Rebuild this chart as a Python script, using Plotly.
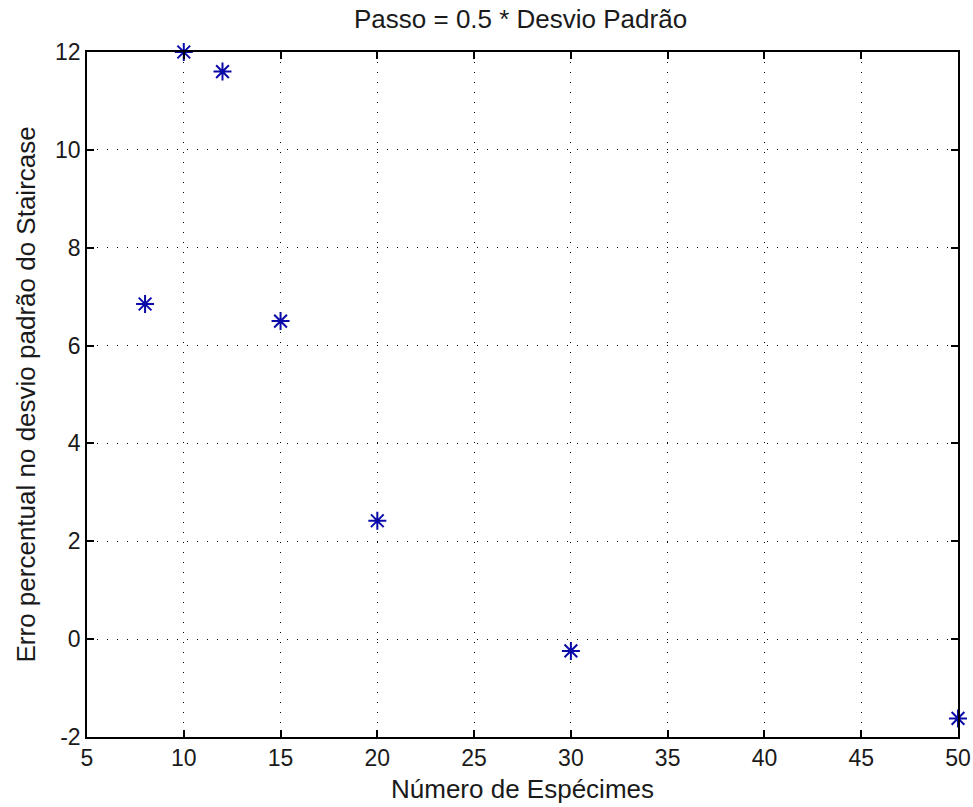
import plotly.graph_objects as go

# Data
especimes = [8, 10, 12, 15, 20, 30, 50]
erro = [6.85, 12.0, 11.6, 6.5, 2.42, -0.24, -1.62]

x_ticks = [5, 10, 15, 20, 25, 30, 35, 40, 45, 50]
y_ticks = [-2, 0, 2, 4, 6, 8, 10, 12]
y_tick_text = ["-2", "0", "2", "4", "6", "8", "10", "12"]

title_text = "Passo = 0.5 * Desvio Padrão"
x_label = "Número de Espécimes"
y_label = "Erro percentual no desvio padrão do Staircase"

fig = go.Figure()
fig.add_trace(go.Scatter(
    x=especimes, y=erro, mode="markers",
    marker=dict(symbol="asterisk-open", size=15, color="#0a0aa8",
                line=dict(color="#0a0aa8", width=2)),
    cliponaxis=False, showlegend=False,
))

font_family = "Liberation Sans, Arial, sans-serif"
axis_common = dict(
    showline=True, linecolor="#000000", linewidth=1.5, mirror="ticks",
    ticks="inside", ticklen=7, tickwidth=1.5, tickcolor="#000000",
    showgrid=True, gridcolor="#000000", gridwidth=1, griddash="1px,9px",
    zeroline=False, automargin=False,
    tickfont=dict(family=font_family, size=23, color="#1a1a1a"),
)

label_font = dict(family=font_family, size=26, color="#1a1a1a")

fig.update_layout(
    width=973, height=807,
    margin=dict(l=87, r=15, t=52, b=70),
    paper_bgcolor="white", plot_bgcolor="white",
    title=dict(text=title_text, x=0.535, xanchor="center", y=0.988, yanchor="top",
               font=label_font),
    xaxis=dict(range=[5, 50], tickvals=x_ticks, **axis_common),
    yaxis=dict(range=[-2, 12], tickvals=y_ticks, ticktext=y_tick_text,
               **axis_common),
    annotations=[
        dict(text=y_label, textangle=-90, xref="paper", yref="paper",
             x=(25 - 87) / 871, y=0.5, xanchor="center", yanchor="middle",
             showarrow=False, font=label_font),
        dict(text=x_label, xref="paper", yref="paper",
             x=0.5, y=(737 - 789) / 685, xanchor="center", yanchor="middle",
             showarrow=False, font=label_font),
    ],
)

fig.write_html("out.html")
